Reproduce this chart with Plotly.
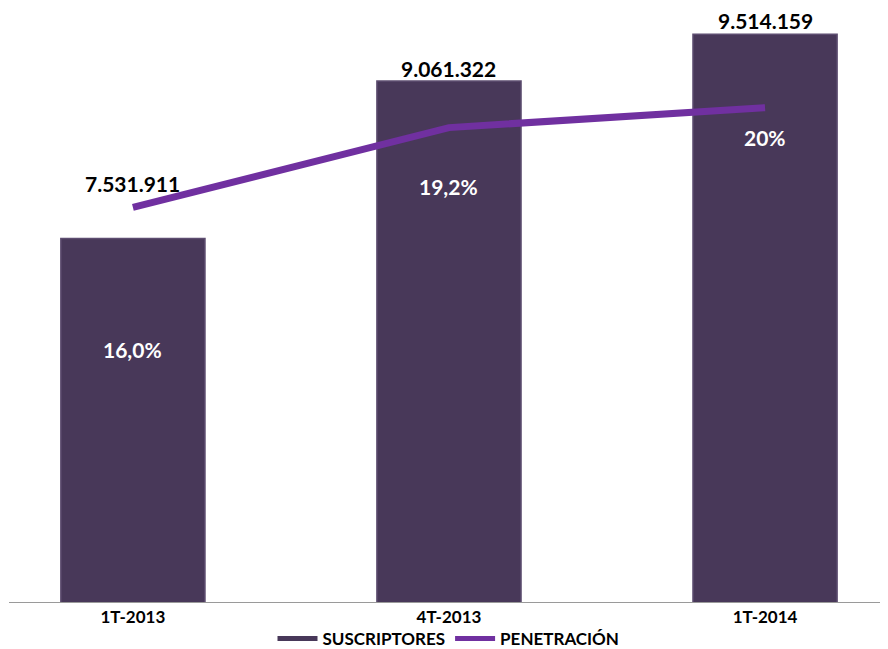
import plotly.graph_objects as go

categories = ["1T-2013", "4T-2013", "1T-2014"]
suscriptores = [7531911, 9061322, 9514159]
penetracion = [16.0, 19.2, 20.0]
pen_labels = ["16,0%", "19,2%", "20%"]

# label offsets (styling, in pixels)
bar_label_shift = [55, 12, 14]
pen_label_shift = [-142, -59, -30]

def fmt_es(v):
    return f"{v:,}".replace(",", ".")

BAR_COLOR = "#483859"
LINE_COLOR = "#7030A0"
FONT = "Lato, 'Open Sans', sans-serif"

fig = go.Figure()
fig.add_trace(go.Bar(
    x=categories, y=suscriptores, name="SUSCRIPTORES", showlegend=False,
    marker=dict(color=BAR_COLOR, line=dict(color="#5d4d70", width=1.5)),
    width=0.456,
))
# legend proxy for the bars (flat rectangle symbol as in the reference)
fig.add_trace(go.Scatter(
    x=[None], y=[None], name="SUSCRIPTORES", mode="lines",
    line=dict(color=BAR_COLOR, width=10),
))
fig.add_trace(go.Scatter(
    x=categories, y=penetracion, name="PENETRACIÓN", yaxis="y2",
    mode="lines", line=dict(color=LINE_COLOR, width=7),
))

annotations = []
for c, v, s in zip(categories, suscriptores, bar_label_shift):
    annotations.append(dict(x=c, y=v, xref="x", yref="y", text=f"<b>{fmt_es(v)}</b>",
                            showarrow=False, yshift=s, yanchor="middle",
                            font=dict(size=21, color="black", family=FONT)))
for c, p, t, s in zip(categories, penetracion, pen_labels, pen_label_shift):
    annotations.append(dict(x=c, y=p, xref="x", yref="y2", text=f"<b>{t}</b>",
                            showarrow=False, yshift=s, yanchor="middle",
                            font=dict(size=21, color="white", family=FONT)))

fig.update_layout(
    width=888, height=649,
    margin=dict(l=1, r=8, t=0, b=53),
    paper_bgcolor="white", plot_bgcolor="white",
    showlegend=True,
    legend=dict(orientation="h", x=0.5, xanchor="center", y=-0.062, yanchor="middle",
                bgcolor="rgba(0,0,0,0)",
                font=dict(size=17, color="black", family=FONT, weight="bold"),
                tracegroupgap=0, itemsizing="constant", itemwidth=40),
    xaxis=dict(range=[-0.392, 2.389], showline=True, linecolor="#9a9a9a", linewidth=1,
               ticks="", tickfont=dict(size=17, color="black", family=FONT),
               showgrid=False, fixedrange=True),
    yaxis=dict(range=[4000000, 4000000 + 596 / 103.3 * 1e6], visible=False, showgrid=False),
    yaxis2=dict(range=[(608 - 604) / 25.0, (608 - 8) / 25.0], overlaying="y", side="right",
                visible=False, showgrid=False),
    annotations=annotations,
    font=dict(family=FONT),
)
fig.update_xaxes(tickvals=categories, ticktext=[f"<b>{c}</b>" for c in categories])

fig.write_html("out.html")
